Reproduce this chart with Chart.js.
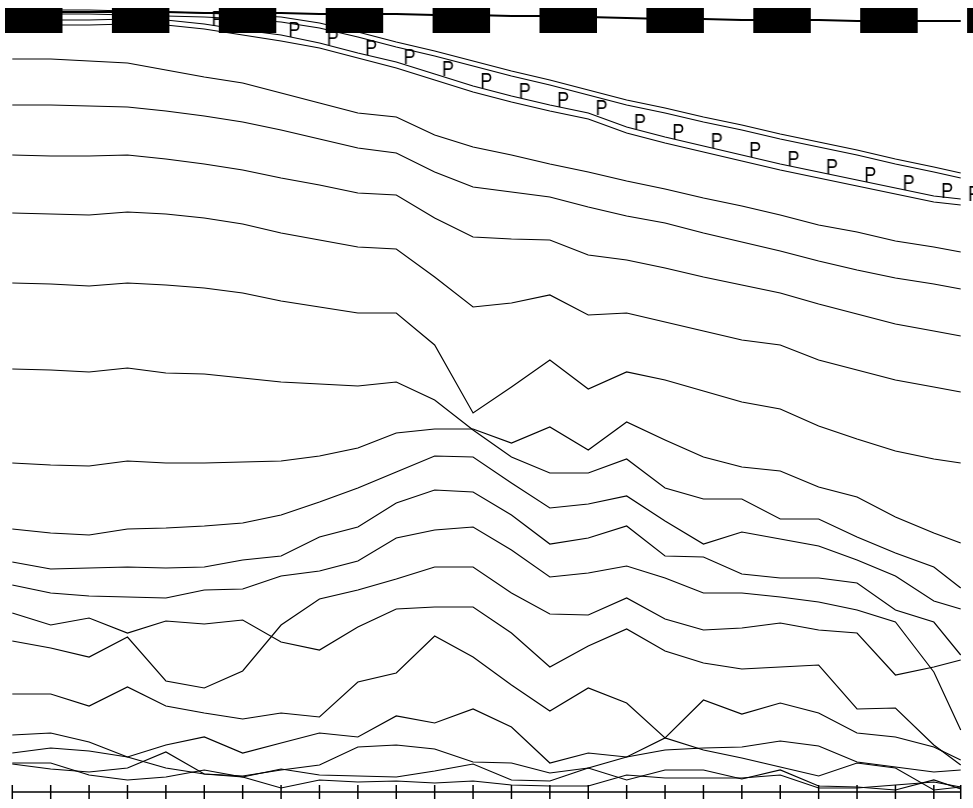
<!DOCTYPE html>
<html>
<head>
<meta charset="utf-8">
<script src="https://cdn.jsdelivr.net/npm/chart.js@4.4.1/dist/chart.umd.min.js"></script>
<style>
  html, body { margin: 0; padding: 0; background: #ffffff; }
  #wrap { width: 973px; height: 808px; }
</style>
</head>
<body>
<div id="wrap"><canvas id="chart"></canvas></div>
<script>
// Sampling times (the last sample comes early, at .7 of the final interval)
const years = [1950, 1951, 1952, 1953, 1954, 1955, 1956, 1957, 1958, 1959, 1960, 1961, 1962,
               1963, 1964, 1965, 1966, 1967, 1968, 1969, 1970, 1971, 1972, 1973, 1974, 1974.7];

// Axis bounds
const X_MIN = 1949.68, X_MAX = 1975.02;
const DEPTH_MAX = 792;

// Heavy dashed reference level across the top
const markerLevel = 20.5;

// Thin surface line just under the top
const surface = [12, 12, 12, 12, 12, 13, 13, 13, 14, 14, 14, 15, 15, 16, 16, 17, 18, 19, 19, 20, 20, 20, 21, 21, 21, 21];

// Double band with the "P" series
const bandUpper1 = [9, 10, 10, 11, 12, 13, 15, 17, 23, 32, 42, 51, 61, 71, 80, 90, 100, 108, 117, 125, 134, 142, 150, 159, 167, 173];
const bandUpper2 = [13, 14, 14, 15, 16, 17, 19, 22, 28, 37, 47, 56, 66, 76, 85, 95, 105, 113, 122, 130, 139, 147, 155, 164, 172, 178];
const bandLower1 = [20, 20, 20, 19, 20, 24, 30, 35, 43, 53, 62, 74, 86, 96, 105, 113, 127, 137, 146, 155, 164, 172, 180, 188, 196, 199];
const bandLower2 = [24, 25, 25, 24, 25, 29, 35, 41, 48, 58, 68, 80, 92, 102, 111, 119, 133, 143, 152, 161, 170, 178, 186, 194, 202, 205];
// samples carrying a "P" mark on the band
const pMarked = [false, false, false, false, false, true, true, true, true, true, true, true, true,
                 true, true, true, true, true, true, true, true, true, true, true, true, true];

// Isolines, upper to lower
const lineA = [59, 59, 61, 63, 70, 77, 83, 93, 103, 113, 117, 135, 147, 155, 164, 172, 181, 189, 198, 206, 215, 225, 232, 241, 247, 252];
const lineB = [105, 105, 106, 107, 111, 116, 122, 130, 139, 148, 153, 172, 187, 192, 197, 207, 216, 223, 233, 242, 251, 261, 270, 278, 284, 289];
const lineC = [155, 156, 156, 155, 159, 164, 170, 178, 185, 193, 195, 218, 237, 239, 240, 255, 260, 268, 277, 285, 293, 304, 314, 324, 331, 336];
const lineD = [213, 214, 215, 212, 214, 218, 224, 233, 240, 247, 249, 277, 307, 303, 295, 315, 313, 322, 331, 340, 345, 360, 370, 380, 387, 392];
const lineE = [283, 284, 286, 283, 285, 288, 293, 301, 307, 313, 313, 345, 413, 387, 360, 389, 372, 380, 391, 402, 409, 426, 439, 451, 459, 463];
const lineF = [369, 370, 372, 368, 373, 374, 378, 382, 384, 386, 382, 400, 430, 457, 473, 473, 459, 488, 499, 499, 519, 519, 537, 553, 567, 588];
const lineG = [463, 465, 466, 461, 463, 463, 462, 461, 456, 448, 433, 429, 429, 443, 427, 450, 422, 440, 457, 467, 471, 487, 497, 517, 533, 543];
const lineH = [529, 533, 535, 529, 528, 526, 523, 515, 502, 488, 472, 456, 457, 483, 508, 504, 496, 521, 544, 532, 539, 546, 560, 576, 601, 609];
const lineI = [562, 569, 568, 567, 568, 567, 560, 556, 537, 527, 503, 490, 492, 515, 544, 538, 526, 556, 557, 574, 578, 578, 583, 610, 622, 655];
const lineJ = [585, 593, 596, 597, 598, 590, 589, 576, 571, 561, 538, 530, 527, 550, 577, 573, 566, 578, 593, 593, 597, 602, 610, 622, 672, 730];
const lineK = [613, 625, 618, 633, 621, 624, 620, 642, 650, 627, 609, 607, 607, 633, 667, 646, 629, 651, 663, 669, 667, 665, 709, 708, 745, 765];
const lineL = [641, 648, 657, 637, 681, 688, 671, 625, 599, 590, 579, 567, 567, 593, 614, 615, 598, 619, 630, 628, 623, 630, 633, 675, 667, 660];
const lineM = [694, 694, 706, 687, 706, 713, 719, 713, 717, 682, 673, 636, 657, 685, 711, 688, 703, 738, 700, 714, 703, 713, 733, 737, 747, 760];
const lineN = [753, 748, 751, 757, 745, 737, 753, 743, 733, 737, 716, 723, 709, 727, 763, 753, 757, 738, 750, 758, 767, 776, 763, 768, 790, 787];
const lineO = [735, 733, 742, 757, 768, 774, 776, 770, 765, 747, 745, 749, 762, 763, 773, 768, 780, 770, 770, 779, 770, 786, 787, 790, 780, 789];
const lineP = [764, 769, 772, 768, 752, 774, 777, 769, 775, 776, 777, 771, 764, 780, 781, 768, 757, 750, 748, 747, 741, 746, 762, 767, 772, 770];
const lineQ = [763, 763, 775, 780, 777, 770, 777, 788, 780, 782, 781, 783, 781, 785, 786, 786, 775, 778, 778, 778, 775, 788, 788, 785, 782, 787];

const INK = '#000000';

// "P" marker glyph drawn once onto a small canvas, sitting just right of its point
function makeMarker(letter) {
  const c = document.createElement('canvas');
  c.width = 48; c.height = 48;
  const g = c.getContext('2d');
  g.fillStyle = INK;
  g.font = '22px "Liberation Sans", Arial, sans-serif';
  g.textAlign = 'left';
  g.textBaseline = 'alphabetic';
  g.translate(32.5, 26);
  g.scale(0.82, 1);
  g.fillText(letter, -1.5, 0);
  return c;
}
const pMarker = makeMarker('P');

function series(values) {
  return values.map((v, i) => ({ x: years[i], y: v }));
}
function isoline(values, extra) {
  return Object.assign({
    data: series(values),
    borderColor: INK,
    borderWidth: 1.2,
    pointRadius: 0,
    tension: 0,
    fill: false
  }, extra || {});
}

const datasets = [
  // Heavy dashed reference across the top (drawn over everything)
  {
    data: [{ x: X_MIN, y: markerLevel }, { x: X_MAX, y: markerLevel }],
    borderColor: INK,
    borderWidth: 25,
    borderDash: [57.5, 49.4],
    borderDashOffset: 101.9,
    borderCapStyle: 'butt',
    pointRadius: 0,
    fill: false
  },
  // Axis baseline with crossing tick marks at every sample
  {
    data: years.map(x => ({ x: x, y: DEPTH_MAX })),
    borderColor: INK,
    borderWidth: 1.5,
    pointStyle: 'line',
    rotation: 90,
    pointRadius: 7,
    pointBorderWidth: 1.5,
    pointBorderColor: INK,
    clip: false,
    fill: false
  },
  isoline(surface, { borderWidth: 1.8 }),
  isoline(bandUpper1),
  isoline(bandUpper2),
  isoline(bandLower1, { pointStyle: pMarker, pointRadius: pMarked.map(m => (m ? 3 : 0)) }),
  isoline(bandLower2),
  isoline(lineA), isoline(lineB), isoline(lineC), isoline(lineD),
  isoline(lineE), isoline(lineF), isoline(lineG), isoline(lineH),
  isoline(lineI), isoline(lineJ), isoline(lineK), isoline(lineL),
  isoline(lineM), isoline(lineN), isoline(lineO), isoline(lineP),
  isoline(lineQ)
];

new Chart(document.getElementById('chart'), {
  type: 'line',
  data: { datasets: datasets },
  options: {
    responsive: true,
    maintainAspectRatio: false,
    animation: false,
    devicePixelRatio: 1,
    layout: { autoPadding: false, padding: { top: 0, left: 0, right: 0, bottom: 16 } },
    plugins: { legend: { display: false }, tooltip: { enabled: false } },
    scales: {
      x: { type: 'linear', min: X_MIN, max: X_MAX, display: false },
      y: { type: 'linear', reverse: true, min: 0, max: DEPTH_MAX, display: false }
    }
  }
});
</script>
</body>
</html>
